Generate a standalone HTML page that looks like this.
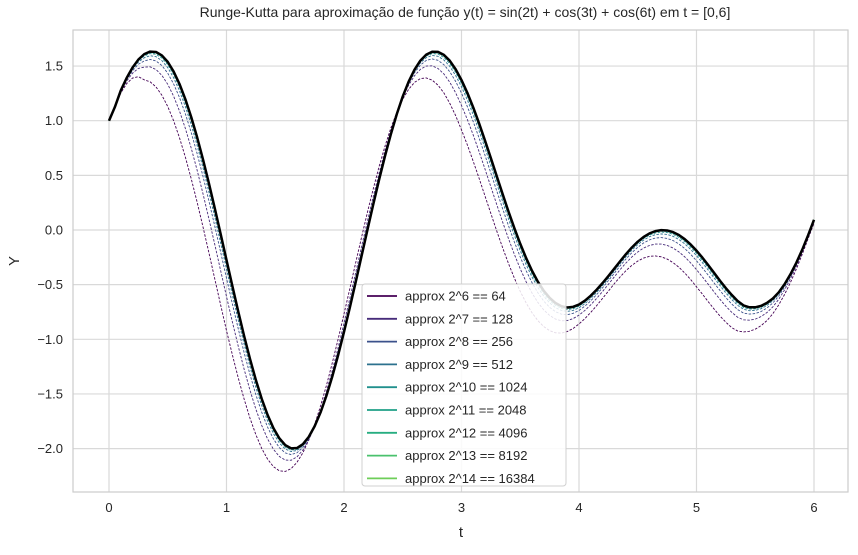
<!DOCTYPE html>
<html><head><meta charset="utf-8"><style>
body{margin:0;background:#fff;font-family:"Liberation Sans",sans-serif}
svg text{font-family:"Liberation Sans",sans-serif;fill:#262626}
</style></head><body>
<svg id="chart" width="858" height="550" xmlns="http://www.w3.org/2000/svg">
<rect x="0" y="0" width="858" height="550" fill="#fff"/>
<text x="465" y="17" font-size="14" text-anchor="middle">Runge-Kutta para aproximação de função y(t) = sin(2t) + cos(3t) + cos(6t) em t = [0,6]</text>
<g id="grid"></g>
<rect x="73" y="30" width="775" height="462" fill="none" stroke="#cccccc" stroke-width="1.2"/>
<g id="series"></g>
<g id="ticks"></g>
<text x="461" y="537" font-size="15" text-anchor="middle">t</text>
<text x="19" y="261" font-size="15" text-anchor="middle" transform="rotate(-90 19 261)">Y</text>
<g id="legend"></g>
</svg>
<script>
const tSamples=[0,0.1,0.2,0.3,0.4,0.5,0.6,0.7,0.8,0.9,1.0,1.1,1.2,1.3,1.4,1.5,1.6,1.7,1.8,1.9,2.0,2.1,2.2,2.3,2.4,2.5,2.6,2.7,2.8,2.9,3.0,3.1,3.2,3.3,3.4,3.5,3.6,3.7,3.8,3.9,4.0,4.1,4.2,4.3,4.4,4.5,4.6,4.7,4.8,4.9,5.0,5.1,5.2,5.3,5.4,5.5,5.6,5.7,5.8,5.9,6.0,6.1];
const exactValues=[1,1.276,1.486,1.609,1.629,1.538,1.336,1.033,0.646,0.200,-0.275,-0.746,-1.180,-1.545,-1.814,-1.968,-1.995,-1.893,-1.670,-1.342,-0.933,-0.474,0.004,0.466,0.881,1.222,1.467,1.605,1.630,1.549,1.372,1.121,0.819,0.493,0.169,-0.126,-0.373,-0.556,-0.668,-0.709,-0.682,-0.601,-0.486,-0.354,-0.220,-0.107,-0.031,-0.001,-0.019,-0.084,-0.189,-0.321,-0.464,-0.594,-0.690,-0.707,-0.667,-0.570,-0.404,-0.180,0.093,0.390];
// per-series phase lead (in t) and vertical offset
const errT=[0,0.3,1.0,2.0,3.0,4.0,5.0,6.0];
const shift64=[0,0.08,0.09,0.08,0.08,0.07,0.07,0.06];
const off64=[0,-0.26,-0.22,-0.2,-0.26,-0.23,-0.24,-0.2];
const shift128=[0,0.04,0.045,0.04,0.04,0.035,0.035,0.03];
const off128=[0,-0.14,-0.12,-0.1,-0.14,-0.12,-0.13,-0.1];
const shift256=[0,0.02,0.022,0.02,0.02,0.018,0.018,0.015];
const off256=[0,-0.075,-0.06,-0.05,-0.075,-0.065,-0.07,-0.05];
const shift512=[0,0.01,0.011,0.01,0.01,0.009,0.009,0.008];
const off512=[0,-0.04,-0.03,-0.025,-0.04,-0.035,-0.035,-0.025];
const shift1024=[0,0.005,0.005,0.005,0.005,0.005,0.005,0.004];
const off1024=[0,-0.02,-0.015,-0.013,-0.02,-0.018,-0.018,-0.013];
const shift2048=[0,0.003,0.003,0.003,0.003,0.003,0.003,0.002];
const off2048=[0,-0.01,-0.008,-0.007,-0.01,-0.009,-0.009,-0.007];
const shift4096=[0,0.001,0.001,0.001,0.001,0.001,0.001,0.001];
const off4096=[0,-0.005,-0.004,-0.003,-0.005,-0.005,-0.005,-0.003];
const shift8192=[0,0.001,0.001,0.001,0.001,0.001,0.001,0.001];
const off8192=[0,-0.003,-0.002,-0.002,-0.003,-0.002,-0.002,-0.002];
const shift16384=[0,0,0,0,0,0,0,0];
const off16384=[0,-0.001,-0.001,-0.001,-0.001,-0.001,-0.001,-0.001];
const seriesLabels=["approx 2^6 == 64","approx 2^7 == 128","approx 2^8 == 256","approx 2^9 == 512","approx 2^10 == 1024","approx 2^11 == 2048","approx 2^12 == 4096","approx 2^13 == 8192","approx 2^14 == 16384"];
const seriesColors=["#440154","#472c7a","#3b518b","#2c718e","#21908d","#1fa187","#27ad81","#4ac16d","#6ece58"];
const shiftSeries=[shift64,shift128,shift256,shift512,shift1024,shift2048,shift4096,shift8192,shift16384];
const offSeries=[off64,off128,off256,off512,off1024,off2048,off4096,off8192,off16384];
const xTicks=[0,1,2,3,4,5,6];
const yTicks=[1.5,1.0,0.5,0.0,-0.5,-1.0,-1.5,-2.0];

const NS="http://www.w3.org/2000/svg";
const X=t=>109+t*117.5;
const Y=v=>230-v*109.3;
function mk(tag,attrs,parent){const e=document.createElementNS(NS,tag);for(const k in attrs)e.setAttribute(k,attrs[k]);parent.appendChild(e);return e;}
function interp(xs,ys,x){if(x<=xs[0])return ys[0];for(let i=0;i<xs.length-1;i++){if(x<=xs[i+1]){const f=(x-xs[i])/(xs[i+1]-xs[i]);return ys[i]+f*(ys[i+1]-ys[i]);}}return ys[ys.length-1];}
function exactAt(t){const i=Math.min(Math.floor(t/0.1),tSamples.length-3);const p0=exactValues[Math.max(0,i-1)],p1=exactValues[i],p2=exactValues[i+1],p3=exactValues[i+2];const u=(t-tSamples[i])/0.1;
  return 0.5*((2*p1)+(-p0+p2)*u+(2*p0-5*p1+4*p2-p3)*u*u+(-p0+3*p1-3*p2+p3)*u*u*u);}
const plotT=[];for(let i=0;i<=120;i++)plotT.push(i*0.05);
function pathFrom(ts,vals){
  const p=ts.map((t,i)=>[X(t),Y(vals[i])]);
  let d="M"+p[0][0].toFixed(2)+","+p[0][1].toFixed(2);
  for(let i=1;i<p.length;i++)d+=" L"+p[i][0].toFixed(2)+","+p[i][1].toFixed(2);
  return d;
}
const grid=document.getElementById('grid'),ticks=document.getElementById('ticks'),series=document.getElementById('series'),legend=document.getElementById('legend');
xTicks.forEach(t=>{
  const g=mk('line',{x1:X(t),x2:X(t),y1:30,y2:492,stroke:'#d9d9d9','stroke-width':1.2},grid);
  
  
  const l=mk('text',{x:X(t),y:512,'font-size':13,'text-anchor':'middle'},ticks);
  l.textContent=String(t);
  
  
});
yTicks.forEach(v=>{
  const g=mk('line',{x1:73,x2:848,y1:Y(v),y2:Y(v),stroke:'#d9d9d9','stroke-width':1.2},grid);
  
  
  const l=mk('text',{x:63,y:Y(v)+4.5,'font-size':13,'text-anchor':'end'},ticks);
  l.textContent=(v<0?"\u2212":"")+Math.abs(v).toFixed(1);
  
  
});
shiftSeries.forEach((sh,k)=>{
  const off=offSeries[k];
  const vals=plotT.map(t=>exactAt(t+interp(errT,sh,t))+interp(errT,off,t));
  const p=mk('path',{d:pathFrom(plotT,vals),fill:'none',stroke:seriesColors[k],'stroke-width':0.9,'stroke-dasharray':'2.5,1.5'},series);
  
  
});
const ex=mk('path',{d:pathFrom(plotT,plotT.map(t=>exactAt(t))),fill:'none',stroke:'#000','stroke-width':2.5,'stroke-linejoin':'round'},series);


const box=mk('rect',{x:362,y:284,width:204,height:202,rx:3,fill:'#fff','fill-opacity':0.85,stroke:'#d0d0d0'},legend);


seriesLabels.forEach((s,k)=>{
  const y=296+k*22.8;
  const ln=mk('line',{x1:367,x2:397,y1:y,y2:y,stroke:seriesColors[k],'stroke-width':1.8},legend);
  
  
  const tx=mk('text',{x:405,y:y+4.5,'font-size':13},legend);
  tx.textContent=s;
  
  
});
</script>
</body></html>
